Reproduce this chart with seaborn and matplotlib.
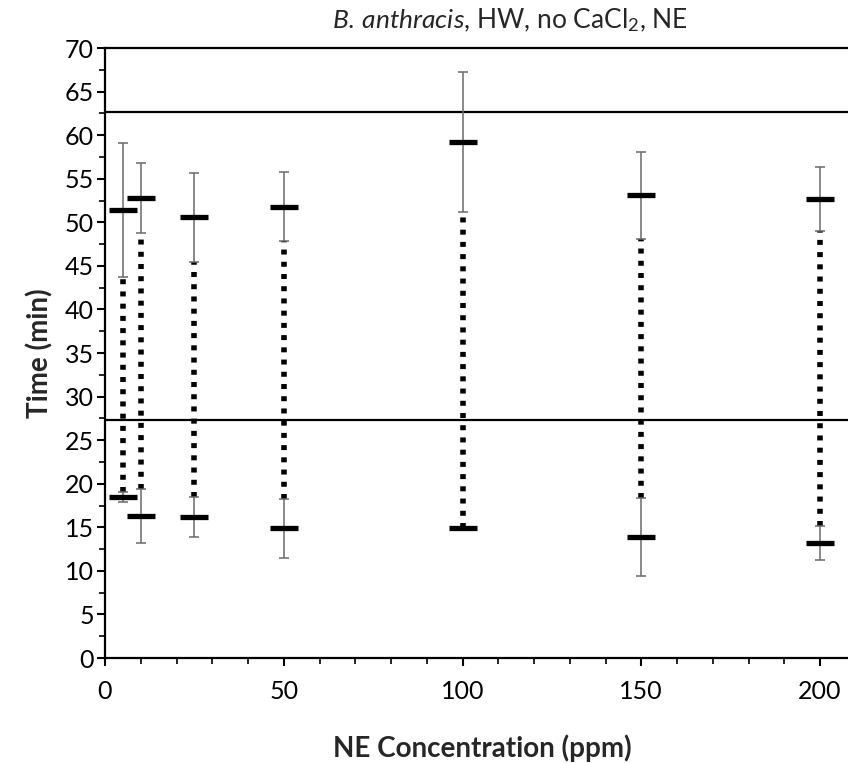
import matplotlib
matplotlib.use("Agg")
import matplotlib.pyplot as plt
from matplotlib.ticker import MultipleLocator
import numpy as np
import pandas as pd
import seaborn as sns

# NE concentration (ppm) and the two timing readings (min) per concentration
conc = [5, 10, 25, 50, 100, 150, 200]
upper_mean = [51.4, 52.8, 50.6, 51.8, 59.2, 53.1, 52.7]
upper_err = [7.7, 4.0, 5.1, 4.0, 8.0, 5.0, 3.7]
lower_mean = [18.5, 16.3, 16.2, 14.9, 14.9, 13.9, 13.2]
lower_err = [0.6, 3.1, 2.3, 3.4, 0.0, 4.5, 1.9]

# reference levels (min)
ref_levels = [62.7, 27.3]

x_ticks = [0, 50, 100, 150, 200]
y_ticks = list(range(0, 75, 5))

sns.set_theme(style="ticks")
plt.rcParams["font.family"] = ["Lato", "DejaVu Sans"]
plt.rcParams["mathtext.fontset"] = "custom"
plt.rcParams["mathtext.rm"] = "Lato"
plt.rcParams["mathtext.it"] = "Lato:italic"

df = pd.DataFrame({
    "conc": conc * 2,
    "time": upper_mean + lower_mean,
    "err": upper_err + lower_err,
})

fig = plt.figure(figsize=(8.48, 7.63), dpi=100)
ax = fig.add_axes([105 / 848, 1 - 658 / 763, 1 - 105 / 848, (658 - 48) / 763])

# reference lines
for lvl in ref_levels:
    ax.axhline(lvl, color="black", lw=1.6, zorder=1)

# dotted span between the two readings
up_lo = np.array(upper_mean) - np.array(upper_err)
lo_hi = np.array(lower_mean) + np.array(lower_err)
ax.vlines(conc, lo_hi, up_lo, colors="black", lw=4.0,
          linestyles=(0, (0.9, 1.3)), zorder=2)

# thin error bars
ax.errorbar(df["conc"], df["time"], yerr=df["err"], fmt="none",
            ecolor="#6a6a6a", elinewidth=1.1, capsize=3.5, capthick=1.1, zorder=3)

# horizontal bar markers for each reading
sns.scatterplot(data=df, x="conc", y="time", marker="_", s=420,
                linewidth=3.8, color="black", ax=ax, zorder=4, legend=False)

ax.set_xlim(0, (848 - 105) / 3.575)
ax.set_ylim(0, 70)
ax.set_xticks(x_ticks)
ax.set_yticks(y_ticks)
ax.xaxis.set_minor_locator(MultipleLocator(10))
ax.yaxis.set_minor_locator(MultipleLocator(2.5))
ax.tick_params(axis="both", which="major", direction="out", length=6, width=1.5,
               labelsize=18, color="black", labelcolor="black")
ax.tick_params(axis="x", which="major", pad=10)
ax.tick_params(axis="y", which="major", pad=2)
ax.tick_params(axis="both", which="minor", direction="out", length=4, width=1.2,
               color="black")

for side in ["left", "bottom", "top"]:
    ax.spines[side].set_visible(True)
    ax.spines[side].set_linewidth(1.6)
    ax.spines[side].set_color("black")
ax.spines["right"].set_visible(False)

ax.set_xlabel("NE Concentration (ppm)", fontsize=20, fontweight="bold")
ax.set_ylabel("Time (min)", fontsize=20, fontweight="bold", labelpad=8)
ax.xaxis.set_label_coords((482 - 105) / 743, -0.125)

fig.text(510 / 848, 1 - 20 / 763,
         r"$\mathit{B.\,anthracis}$, HW, no CaCl$_2$, NE",
         ha="center", va="center", fontsize=19)

fig.savefig("out.png", dpi=100, facecolor="white")
